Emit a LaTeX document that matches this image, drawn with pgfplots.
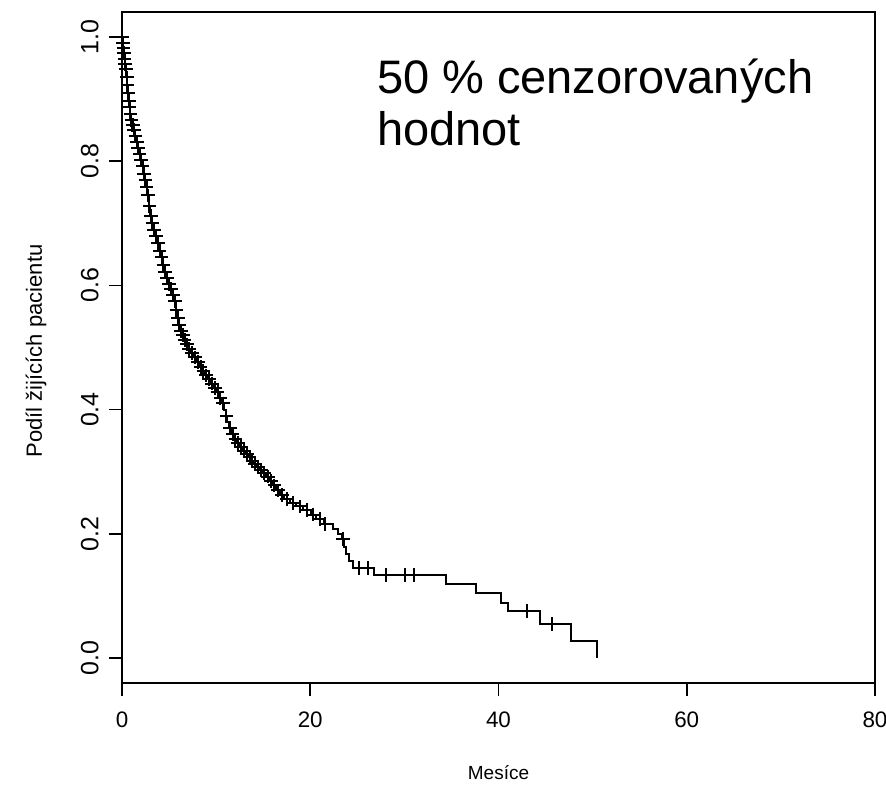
\documentclass[border=0pt]{standalone}
\usepackage{pgfplots}
\pgfplotsset{compat=1.18}
\usepackage{fontspec}
\setmainfont{Liberation Sans}
\begin{document}
\begin{tikzpicture}
\path[use as bounding box] (-61pt,-52pt) rectangle (382pt,341.5pt);
\begin{axis}[
  at={(0,0)}, anchor=south west,
  scale only axis, width=376.5pt, height=335.5pt,
  xmin=0, xmax=80, ymin=-0.0403, ymax=1.0403,
  xtick={0,20,40,60,80},
  ytick={0,0.2,0.4,0.6,0.8,1},
  yticklabels={0.0,0.2,0.4,0.6,0.8,1.0},
  tick align=outside, xtick pos=left, ytick pos=left,
  major tick length=6.5pt,
  axis line style={line width=0.9pt},
  every tick/.style={line width=0.9pt, black},
  /pgf/number format/assume math mode=true,
  xticklabel style={font=\fontsize{11.2}{13}\selectfont, inner sep=0pt, anchor=north},
  xticklabel shift=7.5pt,
  yticklabel style={font=\fontsize{12.5}{14}\selectfont, rotate=90, inner sep=0pt, anchor=south},
  yticklabel shift=5pt,
  clip=false,
]
\addplot[const plot, black, line width=1pt] coordinates {
(0,1.000)
(0.05,0.990) (0.10,0.982) (0.18,0.975) (0.25,0.965) (0.30,0.957) (0.38,0.948)
(0.45,0.935) (0.52,0.922) (0.60,0.910) (0.68,0.897) (0.75,0.887) (0.85,0.876)
(0.95,0.866) (1.05,0.858) (1.20,0.850) (1.35,0.840) (1.50,0.831) (1.65,0.822)
(1.80,0.812) (1.95,0.802) (2.10,0.792) (2.25,0.780) (2.40,0.770) (2.55,0.758)
(2.70,0.745) (2.85,0.728) (3.00,0.712) (3.15,0.700) (3.30,0.690) (3.50,0.680)
(3.70,0.668) (3.90,0.656) (4.10,0.645) (4.30,0.633) (4.50,0.622) (4.70,0.612)
(4.90,0.602) (5.10,0.594) (5.30,0.585) (5.50,0.575) (5.70,0.560) (5.85,0.548)
(6.00,0.537) (6.15,0.527) (6.35,0.520) (6.55,0.512) (6.80,0.505) (7.05,0.498)
(7.30,0.491) (7.60,0.484) (7.90,0.477) (8.20,0.469) (8.50,0.462) (8.80,0.455)
(9.10,0.449) (9.40,0.442) (9.70,0.435) (10.00,0.428) (10.30,0.419) (10.60,0.410)
(10.80,0.400) (11.00,0.390) (11.20,0.380) (11.40,0.370) (11.60,0.360) (11.90,0.352)
(12.20,0.346) (12.50,0.340) (12.80,0.334) (13.10,0.328) (13.40,0.323) (13.70,0.318)
(14.00,0.313) (14.30,0.308) (14.60,0.303) (14.90,0.298) (15.30,0.292) (15.70,0.285)
(16.00,0.278) (16.40,0.270) (16.80,0.262) (17.20,0.256) (17.80,0.250) (18.50,0.244)
(19.20,0.238) (20.10,0.231) (20.60,0.224) (21.50,0.216) (22.40,0.208) (22.90,0.200)
(23.40,0.192) (23.60,0.179) (23.80,0.168) (24.10,0.156) (24.50,0.145) (26.80,0.134)
(34.40,0.119) (37.60,0.104) (40.30,0.089) (41.00,0.076) (44.40,0.055) (47.70,0.028)
(50.50,0.000)
};
\addplot[only marks, mark=+, mark size=3.4pt, black, mark options={line width=1pt}] coordinates {
(0.02,1.000) (0.08,0.990) (0.15,0.982) (0.22,0.975) (0.27,0.965) (0.35,0.957) (0.42,0.948) (0.50,0.935)
(0.58,0.922) (0.65,0.910) (0.72,0.897) (0.80,0.887) (0.90,0.876) (1.00,0.866)
(1.10,0.858) (1.15,0.858) (1.28,0.850) (1.42,0.840) (1.58,0.831) (1.72,0.822) (1.88,0.812)
(2.02,0.802) (2.18,0.792) (2.32,0.780) (2.48,0.770) (2.62,0.758) (2.78,0.745)
(2.92,0.728) (3.08,0.712) (3.22,0.700) (3.40,0.690) (3.60,0.680) (3.80,0.668)
(4.00,0.656) (4.20,0.645) (4.40,0.633) (4.60,0.622) (4.80,0.612) (5.00,0.602)
(5.20,0.594) (5.40,0.585) (5.60,0.575) (5.78,0.560) (5.92,0.548) (6.08,0.537)
(6.25,0.527) (6.45,0.520) (6.65,0.512) (6.90,0.505) (7.15,0.498) (7.45,0.491)
(7.75,0.484) (8.05,0.477) (8.35,0.469) (8.65,0.462) (8.95,0.455) (9.25,0.449)
(9.55,0.442) (9.85,0.435) (10.15,0.428) (10.45,0.419) (10.70,0.410) (11.10,0.390)
(11.50,0.370) (11.75,0.360) (12.05,0.352) (12.35,0.346) (12.65,0.340) (12.95,0.334)
(13.25,0.328) (13.55,0.323) (13.85,0.318) (14.15,0.313) (14.45,0.308) (14.75,0.303)
(15.10,0.298) (15.50,0.292) (15.85,0.285) (16.20,0.278) (16.60,0.270) (17.00,0.262)
(17.50,0.256) (18.20,0.250) (18.90,0.244) (19.70,0.238) (20.30,0.231) (21.00,0.224)
(21.60,0.216) (23.45,0.192) (25.20,0.145) (26.10,0.145) (28.00,0.134) (30.10,0.134)
(31.00,0.134) (43.00,0.076) (45.70,0.055)
};
\node[anchor=base west, inner sep=0pt, align=left, font=\fontsize{23.5}{26}\selectfont]
  at (axis cs:27.05,0.826) {50 \% cenzorovaných\\hodnot};
\end{axis}
\node[font=\fontsize{9.5}{11}\selectfont] at (188.25pt,-45pt) {Mesíce};
\node[font=\fontsize{11}{13}\selectfont, rotate=90] at (-43pt,166pt) {Podíl žijících pacientu};
\end{tikzpicture}
\end{document}
